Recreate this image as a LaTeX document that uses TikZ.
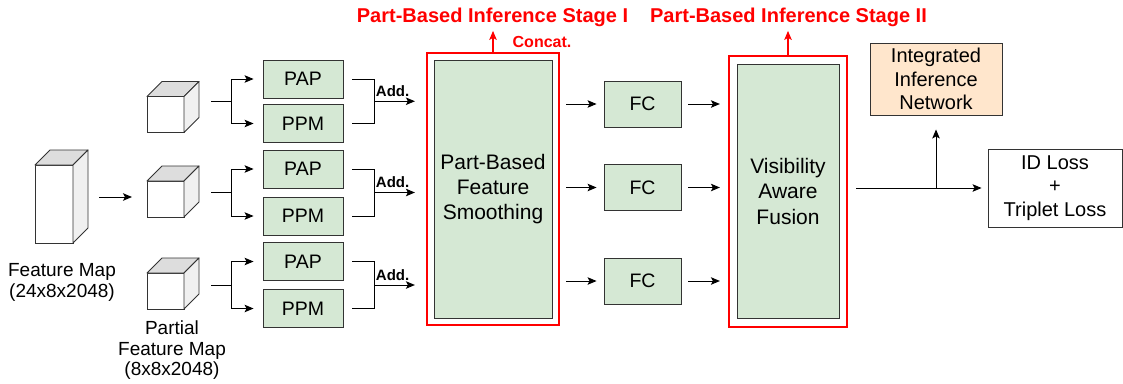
\documentclass[tikz,border=0pt]{standalone}
\usepackage{fontspec}
\setmainfont{Liberation Sans}
\usetikzlibrary{arrows.meta,calc}
\definecolor{gfill}{HTML}{D5E8D4}
\definecolor{ofill}{HTML}{FFE6CC}
\definecolor{edge}{HTML}{333333}
\definecolor{topc}{HTML}{DDDDDD}
\definecolor{sidec}{HTML}{F0F0F0}
\definecolor{redc}{HTML}{FF0000}
\newcommand\cubefaces[2]{%
  \filldraw[facestyle, fill=topc] (#1.north west) -- ($(#1.north west)+(#2,-#2)$) -- ($(#1.north east)+(#2,-#2)$) -- (#1.north east) -- cycle;
  \filldraw[facestyle, fill=sidec] (#1.north east) -- ($(#1.north east)+(#2,-#2)$) -- ($(#1.south east)+(#2,-#2)$) -- (#1.south east) -- cycle;}
\begin{document}
\begin{tikzpicture}[x=1pt,y=-1pt,
  facestyle/.style={draw=edge, line width=0.9pt, line join=round},
  cubefront/.style={draw=edge, fill=white, line width=0.9pt, inner sep=0pt, outer sep=0pt},
  box/.style={draw=edge, line width=0.9pt, fill=gfill, inner sep=0pt, align=center, font=\fontsize{19.5}{25}\selectfont},
  redbox/.style={draw=redc, line width=2.2pt, fill=white, inner sep=0pt},
  lbl/.style={align=center, inner sep=0pt},
  ttl/.style={text=redc, inner sep=0pt, font=\bfseries\fontsize{20}{22}\selectfont},
  arr/.style={line width=1pt, draw=black, -{Stealth[length=9pt,width=7.5pt,inset=2pt]}},
  redarr/.style={line width=1.3pt, draw=redc, -{Stealth[length=9pt,width=7.5pt,inset=2pt]}},
  line/.style={line width=1pt, draw=black},
  addlbl/.style={above=1pt, font=\bfseries\fontsize{15}{17}\selectfont}
]
\useasboundingbox (0,0) rectangle (1123,383);

% cubes
\node[cubefront, minimum width=38pt, minimum height=78pt] (big) at (54,204) {};
\cubefaces{big}{15}
\node[cubefront, minimum width=37pt, minimum height=36pt] (c1) at (165.5,114.5) {};
\cubefaces{c1}{15}
\node[cubefront, minimum width=37pt, minimum height=36pt] (c2) at (165.5,199) {};
\cubefaces{c2}{15}
\node[cubefront, minimum width=37pt, minimum height=36pt] (c3) at (165.5,291) {};
\cubefaces{c3}{15}

\node[lbl, font=\fontsize{19}{21}\selectfont] (fmlbl) at (62,282.5) {Feature Map\\(24x8x2048)};
\node[lbl, font=\fontsize{19}{20.5}\selectfont] (pfmlbl) at (172,350.5) {Partial\\Feature Map\\(8x8x2048)};

% PAP / PPM
\node[box, minimum width=80pt, minimum height=38pt] (pap1) at (303,79) {PAP};
\node[box, minimum width=80pt, minimum height=38pt] (ppm1) at (303,123.5) {PPM};
\node[box, minimum width=80pt, minimum height=38pt] (pap2) at (303,169) {PAP};
\node[box, minimum width=80pt, minimum height=38pt] (ppm2) at (303,216) {PPM};
\node[box, minimum width=80pt, minimum height=38pt] (pap3) at (303,261.5) {PAP};
\node[box, minimum width=80pt, minimum height=38pt] (ppm3) at (303,308.5) {PPM};

% stages
\node[redbox, minimum width=132pt, minimum height=272pt] (st1) at (493,189) {};
\node[box, minimum width=118pt, minimum height=258pt, font=\fontsize{21}{25}\selectfont] (pbfs) at (493,189) {Part-Based\\Feature\\Smoothing};
\node[redbox, minimum width=118pt, minimum height=271pt] (st2) at (788,191.5) {};
\node[box, minimum width=102pt, minimum height=254pt, font=\fontsize{21}{25.5}\selectfont] (vaf) at (788,191) {Visibility\\Aware\\Fusion};

% FC
\node[box, minimum width=77pt, minimum height=46pt] (fc1) at (642.5,104) {FC};
\node[box, minimum width=77pt, minimum height=46pt] (fc2) at (642.5,187.5) {FC};
\node[box, minimum width=77pt, minimum height=46pt] (fc3) at (642.5,281) {FC};

% outputs
\node[box, fill=ofill, minimum width=132pt, minimum height=72pt, font=\fontsize{20}{23.5}\selectfont] (integ) at (936,79) {Integrated\\Inference\\Network};
\node[box, fill=white, minimum width=134pt, minimum height=78pt, font=\fontsize{20}{23.5}\selectfont] (idl) at (1055,188) {ID Loss\\+\\Triplet Loss};

% titles
\node[ttl] (t1) at (492.5,17) {Part-Based Inference Stage I};
\node[ttl] (t2) at (788.5,17) {Part-Based Inference Stage II};
\node[text=redc, inner sep=0pt, font=\bfseries\fontsize{16}{18}\selectfont] (cc) at (542,42) {Concat.};
\draw[redarr] (st1.north) -- ++(0,-21);
\draw[redarr] (st2.north) -- ++(0,-24);

% cube arrow
\draw[arr] ($(big.east)+(26,-7)$) -- ($(c2.west)+(-15,-2)$);

% forks and merges
\foreach \i/\c in {1/c1,2/c2,3/c3}{
  \coordinate (m\i) at ($(pap\i.west)!.5!(ppm\i.west)$);
  \draw[line] ($(\c.east |- m\i)+(27,0)$) -- ($(m\i)+(-31,0)$);
  \draw[arr] ($(m\i)+(-31,0)$) |- ($(pap\i.west)+(-9,0)$);
  \draw[arr] ($(m\i)+(-31,0)$) |- ($(ppm\i.west)+(-9,0)$);
  \coordinate (e\i) at ($(pap\i.east)!.5!(ppm\i.east)$);
  \draw[line] ($(pap\i.east)+(9,0)$) -| ($(e\i)+(31,0)$) |- ($(ppm\i.east)+(9,0)$);
  \draw[arr] ($(e\i)+(31,0)$) -- node[addlbl, pos=.45]{Add.} ($(e\i -| st1.west)+(-11,0)$);
}

% FC arrows
\foreach \i in {1,2,3}{
  \draw[arr] ($(fc\i.west -| st1.east)+(6,0)$) -- ($(fc\i.west)+(-7,0)$);
  \draw[arr] ($(fc\i.east)+(7,0)$) -- ($(fc\i.east -| st2.west)+(-8,0)$);
}

% output
\coordinate (br) at (integ.south |- idl.west);
\draw[arr] ($(idl.west -| st2.east)+(8,0)$) -- ($(idl.west)+(-6,0)$);
\draw[arr] (br) -- ($(integ.south)+(0,14)$);
\end{tikzpicture}
\end{document}
